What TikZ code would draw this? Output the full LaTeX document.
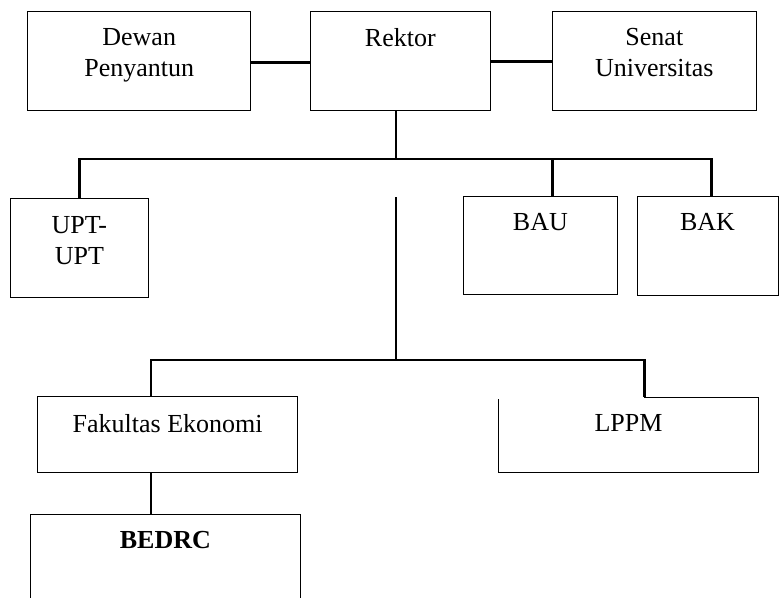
\documentclass[tikz,border=0pt]{standalone}
\usepackage{fontspec}
\setmainfont{Liberation Serif}
\begin{document}
\begin{tikzpicture}[x=1pt,y=-1pt,inner sep=0pt,outer sep=0pt,
unit/.style={draw,rectangle,anchor=north west,line width=0.9pt},
tag/.style={anchor=north,align=center,yshift=-17.5pt,font=\fontsize{26}{31}\selectfont},
link/.style={line width=2.8pt}]

\useasboundingbox (0,0) rectangle (779,597);

\draw (27.7,11) node[unit,minimum width=223pt,minimum height=99pt] (dewan) {};
\draw (310.7,11) node[unit,minimum width=179.3pt,minimum height=99pt] (rektor) {};
\draw (552,11) node[unit,minimum width=204.7pt,minimum height=99pt] (senat) {};
\draw (10,198.7) node[unit,minimum width=138.7pt,minimum height=98.3pt] (upt) {};
\draw (463.7,196) node[unit,minimum width=153.3pt,minimum height=98.7pt] (bau) {};
\draw (637,196) node[unit,minimum width=141pt,minimum height=99pt] (bak) {};
\draw (37.7,396.7) node[unit,minimum width=260pt,minimum height=75.3pt] (fe) {};
\draw (498.7,397) node[unit,draw=none,minimum width=259.6pt,minimum height=75.3pt] (lppm) {};
\draw (30.7,514) node[unit,minimum width=269.3pt,minimum height=110pt] (bedrc) {};

\draw (dewan.north) node[tag] (dewantxt) {Dewan\\Penyantun};
\draw (rektor.north) node[tag] (rektortxt) {Rektor};
\draw (senat.north) node[tag] (senattxt) {Senat\\Universitas};
\draw (upt.north) node[tag] (upttxt) {UPT-\\UPT};
\draw (bau.north) node[tag] (bautxt) {BAU};
\draw (bak.north) node[tag] (baktxt) {BAK};
\draw (fe.north) node[tag] (fetxt) {Fakultas Ekonomi};
\draw (lppm.north) node[tag] (lppmtxt) {LPPM};
\draw (bedrc.north) node[tag] (bedrctxt) {\bfseries BEDRC};

% LPPM border, open at the top left
\draw[line width=0.9pt] ([xshift=15.8pt]lppm.north) -- (lppm.north east) -- (lppm.south east)
  -- (lppm.south west) -- ([yshift=-2pt]lppm.north west);

\coordinate (j1) at (396,159);
\coordinate (j2) at (396,197);
\coordinate (j3) at (396,360);

\draw[link] ([yshift=-2pt]dewan.east) -- ([yshift=-2pt]rektor.west);
\draw[link] ([yshift=-1pt]rektor.east) -- ([yshift=-1pt]senat.west);
\draw[link] (rektor.south -| j1) -- (j1);
\draw[link] (upt.north) |- (j1) -| ([xshift=4.2pt]bak.north);
\draw[link] ([xshift=12.4pt]bau.north) -- ([xshift=12.4pt]bau.north |- j1);
\draw[link] (j2) -- (j3);
\draw[link] ([xshift=-16.7pt]fe.north) |- (j3) -| ([xshift=15.8pt]lppm.north);
\draw[link] ([xshift=-16.7pt]fe.south) -- ([xshift=-16.7pt]fe.south |- bedrc.north);
\end{tikzpicture}
\end{document}
